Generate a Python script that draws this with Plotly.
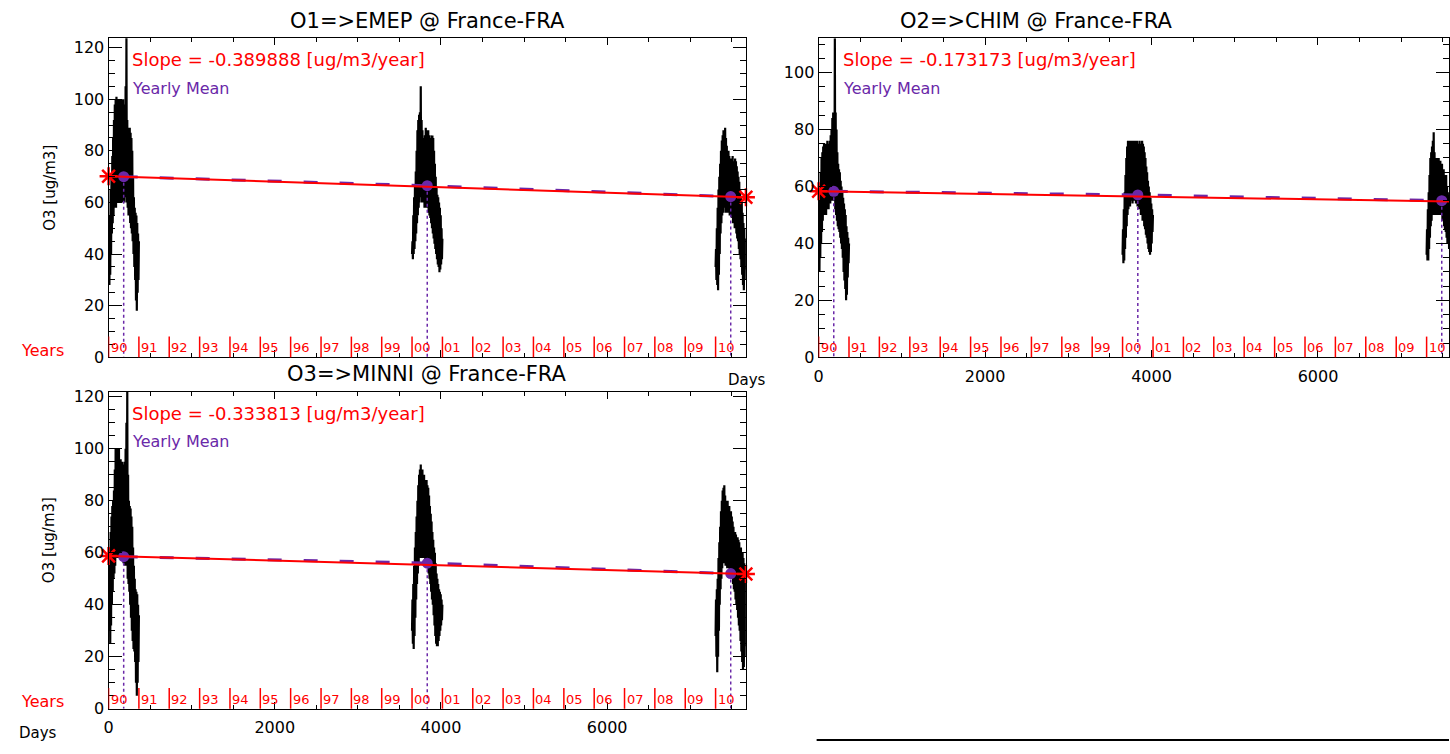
import datetime as dt
import plotly.graph_objects as go

W, H = 1450, 754   # reference picture size; geometry below is given in its pixels
FONT = "DejaVu Sans"
RED = "#FF0000"
PURPLE = "#6A28A8"

# ---------------- data ----------------
YEARS = list(range(1990, 2011))
YEAR_LABELS = ["90", "91", "92", "93", "94", "95", "96", "97", "98", "99", "00",
               "01", "02", "03", "04", "05", "06", "07", "08", "09", "10"]
WINDOW_YEARS = [1990, 2000, 2010]           # years that carry daily data
OFFSETS = list(range(0, 361, 10))           # day-of-year sample positions

TITLES = ["O1=>EMEP @ France-FRA", "O2=>CHIM @ France-FRA", "O3=>MINNI @ France-FRA"]
SLOPES = [-0.389888, -0.173173, -0.333813]  # ug/m3/year
INTERCEPTS = [70.2, 58.3, 58.8]             # trend value at day 0
YEARLY_MEANS_EMEP = [70.0, 66.5, 62.3]
YEARLY_MEANS_CHIM = [58.3, 57.0, 55.0]
YEARLY_MEANS_MINNI = [58.5, 56.0, 52.0]

# daily O3 envelope (low / high) for each sampled year, per model
EMEP_1990_LO = [30, 28, 32, 40, 48, 52, 55, 58, 60, 58, 62, 60, 62, 60, 62, 60, 62, 60, 62, 60, 62, 65, 60, 58, 55, 55, 52, 50, 48, 45, 40, 35, 30, 22, 18, 25, 30]
EMEP_1990_HI = [45, 55, 65, 70, 78, 85, 92, 98, 100, 101, 98, 100, 96, 100, 98, 100, 97, 100, 95, 98, 105, 124, 92, 89, 88, 89, 87, 85, 80, 70, 62, 58, 56, 55, 52, 48, 45]
EMEP_2000_LO = [40, 38, 40, 42, 45, 48, 52, 55, 58, 60, 62, 62, 60, 62, 60, 58, 60, 58, 60, 58, 56, 55, 54, 52, 50, 48, 46, 44, 42, 40, 38, 36, 35, 33, 34, 36, 38]
EMEP_2000_HI = [45, 55, 62, 66, 72, 80, 88, 92, 94, 95, 105, 92, 88, 85, 84, 86, 89, 88, 87, 88, 86, 84, 85, 86, 86, 85, 80, 75, 70, 66, 63, 62, 60, 58, 55, 50, 46]
EMEP_2010_LO = [35, 30, 28, 26, 32, 40, 48, 52, 55, 56, 58, 58, 56, 58, 56, 58, 56, 55, 56, 55, 54, 52, 52, 50, 50, 48, 46, 45, 42, 40, 38, 35, 32, 28, 26, 30, 34]
EMEP_2010_HI = [42, 50, 58, 65, 70, 75, 80, 84, 86, 88, 87, 89, 85, 82, 78, 80, 78, 77, 76, 77, 78, 76, 75, 77, 76, 74, 72, 70, 68, 65, 62, 60, 56, 52, 50, 46, 44]

CHIM_1990_LO = [32, 30, 35, 40, 44, 48, 50, 50, 52, 50, 52, 54, 52, 55, 54, 55, 55, 56, 55, 55, 52, 50, 48, 46, 45, 44, 42, 40, 38, 35, 30, 27, 24, 20, 22, 28, 33]
CHIM_1990_HI = [50, 58, 65, 70, 72, 74, 75, 73, 75, 74, 76, 75, 74, 76, 78, 80, 84, 86, 85, 112, 86, 80, 72, 68, 66, 65, 62, 60, 58, 56, 54, 52, 50, 46, 44, 42, 40]
CHIM_2000_LO = [36, 33, 34, 38, 42, 46, 50, 52, 54, 53, 55, 56, 54, 55, 56, 55, 54, 55, 53, 54, 52, 52, 50, 50, 48, 48, 46, 45, 43, 42, 40, 38, 37, 36, 37, 40, 44]
CHIM_2000_HI = [45, 52, 58, 64, 70, 74, 76, 76, 74, 76, 75, 76, 74, 76, 75, 76, 74, 76, 74, 75, 76, 74, 75, 76, 75, 74, 72, 70, 67, 65, 62, 60, 58, 56, 54, 52, 50]
CHIM_2010_LO = [36, 34, 34, 38, 42, 46, 48, 50, 50, 52, 50, 52, 50, 52, 50, 52, 50, 52, 50, 48, 48, 46, 45, 44, 42, 40, 40, 38, 38, 40, 38, 36, 35, 36, 38, 40, 40]
CHIM_2010_HI = [45, 52, 58, 64, 70, 72, 74, 76, 79, 72, 70, 68, 70, 68, 70, 67, 69, 66, 68, 66, 66, 64, 62, 64, 60, 58, 57, 56, 55, 54, 52, 50, 48, 46, 46, 45, 44]

MINNI_1990_LO = [38, 30, 25, 32, 40, 45, 50, 52, 55, 58, 60, 58, 60, 58, 60, 58, 60, 58, 56, 58, 55, 55, 55, 50, 48, 45, 40, 35, 30, 26, 23, 22, 18, 10, 5, 10, 18]
MINNI_1990_HI = [55, 62, 68, 74, 78, 80, 84, 92, 100, 98, 100, 96, 100, 94, 96, 94, 95, 92, 94, 95, 100, 110, 124, 90, 80, 78, 77, 74, 70, 62, 55, 50, 46, 45, 44, 40, 36]
MINNI_2000_LO = [30, 25, 23, 28, 35, 42, 48, 52, 55, 58, 60, 58, 60, 58, 60, 58, 56, 58, 56, 55, 52, 50, 48, 45, 42, 40, 36, 32, 28, 25, 24, 24, 26, 28, 30, 32, 34]
MINNI_2000_HI = [42, 48, 55, 62, 68, 74, 80, 86, 90, 92, 94, 90, 92, 88, 90, 88, 86, 88, 86, 85, 82, 78, 75, 72, 68, 65, 62, 60, 56, 52, 50, 48, 46, 45, 44, 42, 40]
MINNI_2010_LO = [28, 20, 14, 20, 30, 40, 46, 50, 54, 56, 58, 56, 55, 56, 54, 55, 54, 52, 52, 50, 50, 48, 46, 45, 42, 40, 38, 35, 32, 30, 26, 22, 18, 15, 16, 20, 24]
MINNI_2010_HI = [42, 46, 50, 58, 64, 70, 76, 80, 84, 85, 86, 82, 80, 78, 80, 76, 78, 75, 76, 74, 72, 70, 68, 68, 67, 66, 66, 65, 64, 62, 62, 60, 60, 58, 56, 52, 48]

# ---------------- layout geometry (pixels of the reference) ----------------
PANELS = [
    dict(x0=104, x1=744, y0=35, y1=360, xmax=7670, ymax=123.6, xlabels=False,
         lows=[EMEP_1990_LO, EMEP_2000_LO, EMEP_2010_LO],
         highs=[EMEP_1990_HI, EMEP_2000_HI, EMEP_2010_HI],
         means=YEARLY_MEANS_EMEP, years_lbl=True, days_lbl=None, ytitle=True),
    dict(x0=817, x1=1450, y0=35, y1=360, xmax=7574, ymax=112.0, xlabels=True,
         lows=[CHIM_1990_LO, CHIM_2000_LO, CHIM_2010_LO],
         highs=[CHIM_1990_HI, CHIM_2000_HI, CHIM_2010_HI],
         means=YEARLY_MEANS_CHIM, years_lbl=False, days_lbl=(745, 383), ytitle=False),
    dict(x0=104, x1=744, y0=395, y1=718, xmax=7670, ymax=122.0, xlabels=True,
         lows=[MINNI_1990_LO, MINNI_2000_LO, MINNI_2010_LO],
         highs=[MINNI_1990_HI, MINNI_2000_HI, MINNI_2010_HI],
         means=YEARLY_MEANS_MINNI, years_lbl=True, days_lbl=(33, 743), ytitle=True),
]
TREND_END_DAY = 7670


def px(x):
    return x / W


def py(y):
    return 1 - y / H


def day_of(year, month=1, d=1):
    return (dt.date(year, month, d) - dt.date(1990, 1, 1)).days


fig = go.Figure()
shapes = []
annotations = []

for i, p in enumerate(PANELS):
    n = "" if i == 0 else str(i + 1)
    xa, ya = "x" + n, "y" + n

    # daily series (dense zig-zag between read low/high values)
    for wy, lo, hi in zip(WINDOW_YEARS, p["lows"], p["highs"]):
        start = day_of(wy)
        xs, ys = [], []
        for o, l, h in zip(OFFSETS, lo, hi):
            xs += [start + o, start + o + 5]
            ys += [l, h]
        fig.add_trace(go.Scatter(x=xs, y=ys, mode="lines", xaxis=xa, yaxis=ya,
                                 line=dict(color="black", width=2.2), showlegend=False,
                                 hoverinfo="skip"))

    mids = [day_of(wy, 7, 2) for wy in WINDOW_YEARS]
    # purple dotted droplines
    vx, vy = [], []
    for m, v in zip(mids, p["means"]):
        vx += [m, m, None]
        vy += [v, 0, None]
    fig.add_trace(go.Scatter(x=vx, y=vy, mode="lines", xaxis=xa, yaxis=ya,
                             line=dict(color=PURPLE, width=1.5, dash="dot"),
                             showlegend=False, hoverinfo="skip"))
    # purple yearly-mean dashed line
    fig.add_trace(go.Scatter(x=mids, y=p["means"], mode="lines", xaxis=xa, yaxis=ya,
                             line=dict(color=PURPLE, width=3, dash="14px,22px"),
                             showlegend=False, hoverinfo="skip"))
    # yearly mean dots
    fig.add_trace(go.Scatter(x=mids, y=p["means"], mode="markers", xaxis=xa, yaxis=ya,
                             marker=dict(color=PURPLE, size=11), showlegend=False,
                             hoverinfo="skip"))
    # red trend line with asterisks at ends
    tx = [0, TREND_END_DAY]
    ty = [INTERCEPTS[i] + SLOPES[i] * d / 365.25 for d in tx]
    fig.add_trace(go.Scatter(x=tx, y=ty, mode="lines+markers", xaxis=xa, yaxis=ya,
                             line=dict(color=RED, width=2),
                             marker=dict(symbol="asterisk-open", size=15,
                                         line=dict(color=RED, width=2.5), color=RED),
                             cliponaxis=False, showlegend=False, hoverinfo="skip"))

    # red year ticks and labels
    for yr, lab in zip(YEARS, YEAR_LABELS):
        d = day_of(yr)
        if d > p["xmax"]:
            continue
        shapes.append(dict(type="line", xref=xa, yref=ya + " domain", x0=d, x1=d,
                           y0=0, y1=0.065, line=dict(color=RED, width=1.5)))
        annotations.append(dict(x=d, y=0, xref=xa, yref=ya + " domain", text=lab,
                                showarrow=False, xanchor="left", yanchor="bottom",
                                xshift=0, yshift=0,
                                font=dict(family=FONT, size=13, color=RED)))

    # texts
    cx = (p["x0"] + p["x1"]) / 2 if i != 1 else 1035
    ty_title = p["y0"] - 18
    annotations.append(dict(x=px(cx), y=py(ty_title), xref="paper", yref="paper",
                            text=TITLES[i], showarrow=False, xanchor="center",
                            yanchor="middle", font=dict(family=FONT, size=21, color="black")))
    annotations.append(dict(x=px(p["x0"] + 22), y=py(p["y0"] + 22), xref="paper",
                            yref="paper", text="Slope = %.6f [ug/m3/year]" % SLOPES[i],
                            showarrow=False, xanchor="left", yanchor="middle",
                            font=dict(family=FONT, size=18, color=RED)))
    annotations.append(dict(x=px(p["x0"] + 22), y=py(p["y0"] + 51), xref="paper",
                            yref="paper", text="Yearly Mean", showarrow=False,
                            xanchor="left", yanchor="middle",
                            font=dict(family=FONT, size=16, color=PURPLE)))
    if p["years_lbl"]:
        annotations.append(dict(x=px(14), y=py(p["y1"] - 7), xref="paper", yref="paper",
                                text="Years", showarrow=False, xanchor="left",
                                yanchor="middle", font=dict(family=FONT, size=16, color=RED)))
    if p["days_lbl"]:
        annotations.append(dict(x=px(p["days_lbl"][0]), y=py(p["days_lbl"][1]),
                                xref="paper", yref="paper", text="Days", showarrow=False,
                                xanchor="center", yanchor="middle",
                                font=dict(family=FONT, size=15, color="black")))
    if p["ytitle"]:
        annotations.append(dict(x=px(45), y=py((p["y0"] + p["y1"]) / 2 - 10), xref="paper",
                                yref="paper", text="O3 [ug/m3]", showarrow=False,
                                textangle=-90, xanchor="center", yanchor="middle",
                                font=dict(family=FONT, size=15, color="black")))

    axis_common = dict(showline=True, linecolor="black", linewidth=1.2, mirror="allticks",
                       ticks="inside", tickcolor="black", showgrid=False, zeroline=False,
                       tickfont=dict(family=FONT, size=16, color="black"))
    xaxis = dict(axis_common, domain=[px(p["x0"]), px(p["x1"])], range=[0, p["xmax"]],
                 anchor=ya, tick0=0, dtick=2000, ticklen=7, showticklabels=p["xlabels"],
                 ticklabelstandoff=4,
                 minor=dict(ticks="inside", ticklen=4, dtick=500, tickcolor="black",
                            showgrid=False))
    yaxis = dict(axis_common, domain=[py(p["y1"]), py(p["y0"])], range=[0, p["ymax"]],
                 anchor=xa, tick0=0, dtick=20, ticklen=13,
                 minor=dict(ticks="inside", ticklen=6, dtick=5, tickcolor="black",
                            showgrid=False))
    fig.layout["xaxis" + n] = xaxis
    fig.layout["yaxis" + n] = yaxis

# top border of the next (cut-off) panel at the bottom right
shapes.append(dict(type="line", xref="paper", yref="paper", x0=px(815), x1=1,
                   y0=py(750), y1=py(750), line=dict(color="black", width=2)))

# the figure fills the browser viewport; all positions are fractions of it
fig.update_layout(autosize=True, margin=dict(l=0, r=0, t=0, b=0),
                  paper_bgcolor="white", plot_bgcolor="white", showlegend=False,
                  shapes=shapes, annotations=annotations)

fig.write_html("out.html",
               default_width="100vw", default_height="100vh",
               config={"displayModeBar": False, "responsive": True},
               post_script="document.documentElement.style.margin='0';"
                           "document.body.style.margin='0';"
                           "document.documentElement.style.overflow='hidden';"
                           "document.body.style.overflow='hidden';"
                           "var gd=document.getElementById('{plot_id}');"
                           "gd.style.position='fixed';gd.style.left='0px';"
                           "gd.style.top='0px';Plotly.Plots.resize(gd);")
